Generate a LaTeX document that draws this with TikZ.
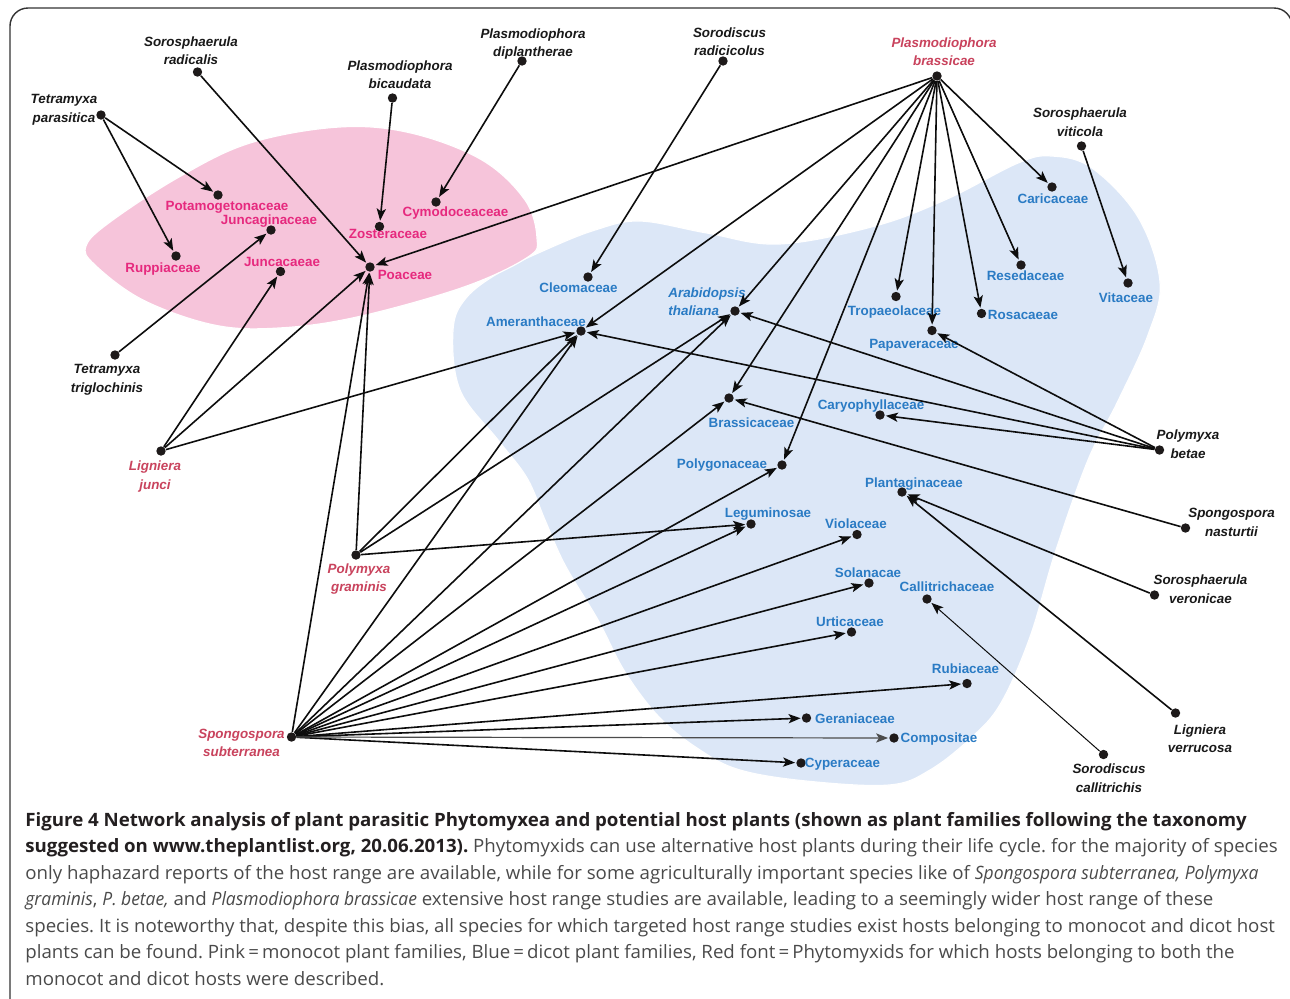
\documentclass[tikz,border=0pt]{standalone}
\usepackage{fontspec}
\setmainfont{Liberation Sans}
\newfontfamily\capfont[FakeStretch=1.015,ItalicFeatures={FakeStretch=0.95}]{Open Sans}
\usetikzlibrary{arrows.meta}
\definecolor{pinkT}{HTML}{E6297E}
\definecolor{blueT}{HTML}{2A7BC4}
\definecolor{redT}{HTML}{C9435D}
\definecolor{pinkF}{HTML}{F6C4DA}
\definecolor{blueF}{HTML}{DCE7F7}
\definecolor{dotC}{HTML}{1E1A1A}
\definecolor{capB}{HTML}{231F20}
\definecolor{capR}{HTML}{4A4A4A}
\frenchspacing
\begin{document}
\begin{tikzpicture}[x=0.5pt,y=-0.5pt,
  dot/.style={circle,fill=dotC,inner sep=0pt,minimum size=4.7pt},
  lbl/.style={inner sep=0pt,align=center,text height=4.8pt,text depth=0pt,
    font=\fontsize{6.7}{9.3}\selectfont\bfseries},
  mono/.style={lbl,text=pinkT},
  dico/.style={lbl,text=blueT},
  spc/.style={lbl,font=\fontsize{6.7}{9.3}\selectfont\bfseries\itshape,text=black!90},
  spr/.style={spc,text=redT},
  arr/.style={line width=0.8pt,draw=black!95,-{Stealth[length=6pt,width=4.6pt,inset=1.4pt]},shorten >=0.4pt},
  capline/.style={anchor=base west,inner sep=0pt,font=\capfont\fontsize{9.2}{13}\selectfont,text=capR}
]
\useasboundingbox (0,0) rectangle (1290,998);
\fill[white] (0,0) rectangle (1290,998);
% frame
\draw[line width=0.7pt,draw=black!80,rounded corners=9pt] (10,1010) -- (10,8) -- (1292,8) -- (1292,40);
% blobs
\fill[blueF,draw=white,line width=0.6pt] plot[smooth cycle,tension=0.6] coordinates {
 (453,330) (466,298) (500,272) (545,250) (595,230) (640,221) (707,233) (779,244)
 (875,226) (947,199) (1018,163) (1052,156) (1092,168) (1138,217) (1160,282)
 (1148,335) (1117,403) (1088,460) (1055,553) (1030,637) (1001,703) (972,737)
 (930,770) (889,785) (806,781) (740,770) (700,750) (660,718) (625,672)
 (598,620) (565,565) (545,520) (527,478) (498,440) (460,390)};
\fill[pinkF,draw=white,line width=0.6pt] plot[smooth cycle,tension=0.6] coordinates {
 (86,246) (110,222) (179,177) (250,143) (339,127) (411,133) (482,160) (525,200)
 (537,238) (528,257) (464,287) (357,317) (279,328) (214,325) (143,300) (95,265)};
% parasite dots
\node[dot] (tpar) at (101,115) {};
\node[dot] (srad) at (197.5,72) {};
\node[dot] (pbic) at (392.5,98) {};
\node[dot] (pdip) at (522,61) {};
\node[dot] (srdc) at (723,61) {};
\node[dot] (pbra) at (937,76) {};
\node[dot] (svit) at (1081.5,146) {};
\node[dot] (ttri) at (115,355) {};
\node[dot] (ljun) at (161,451) {};
\node[dot] (pgra) at (356,555) {};
\node[dot] (ssub) at (291.5,737) {};
\node[dot] (pbet) at (1159.5,450) {};
\node[dot] (snas) at (1185.5,528) {};
\node[dot] (sver) at (1154.5,595) {};
\node[dot] (lver) at (1175.5,713) {};
\node[dot] (scal) at (1103.5,754.5) {};
% host dots
\node[dot] (pota) at (218,195) {};
\node[dot] (junc) at (271,230) {};
\node[dot] (rupp) at (176,256) {};
\node[dot] (jcac) at (280.5,271.5) {};
\node[dot] (zost) at (379.5,226.5) {};
\node[dot] (cymo) at (436,202) {};
\node[dot] (poac) at (370,267) {};
\node[dot] (cleo) at (588,277) {};
\node[dot] (amer) at (581,331) {};
\node[dot] (arab) at (735,311) {};
\node[dot] (cari) at (1052,187) {};
\node[dot] (rese) at (1021,265) {};
\node[dot] (vita) at (1128,283) {};
\node[dot] (trop) at (896,296.5) {};
\node[dot] (rosa) at (981.5,313.5) {};
\node[dot] (papa) at (932,330.5) {};
\node[dot] (bras) at (729,398) {};
\node[dot] (cary) at (880,415) {};
\node[dot] (poly) at (782,465) {};
\node[dot] (plan) at (902,492) {};
\node[dot] (legu) at (751,524) {};
\node[dot] (viol) at (857,534.5) {};
\node[dot] (sola) at (869,583) {};
\node[dot] (call) at (927,599) {};
\node[dot] (urti) at (851.5,632) {};
\node[dot] (rubi) at (967,683.5) {};
\node[dot] (gera) at (806.5,718) {};
\node[dot] (comp) at (894,738) {};
\node[dot] (cype) at (801,763) {};
% parasite labels
\node[spc] (l-tpar) at (64,117.5) {Tetramyxa\\parasitica};
\node[spc] (l-srad) at (191,60) {Sorosphaerula\\radicalis};
\node[spc] (l-pbic) at (400,84) {Plasmodiophora\\bicaudata};
\node[spc] (l-pdip) at (533,52) {Plasmodiophora\\diplantherae};
\node[spc] (l-srdc) at (729.5,51) {Sorodiscus\\radicicolus};
\node[spr] (l-pbra) at (944,61) {Plasmodiophora\\brassicae};
\node[spc] (l-svit) at (1080,131.5) {Sorosphaerula\\viticola};
\node[spc] (l-ttri) at (107,387.5) {Tetramyxa\\triglochinis};
\node[spr] (l-ljun) at (155,484.5) {Ligniera\\junci};
\node[spr] (l-pgra) at (359,587) {Polymyxa\\graminis};
\node[spr] (l-ssub) at (241.5,752) {Spongospora\\subterranea};
\node[spc] (l-pbet) at (1188,453.5) {Polymyxa\\betae};
\node[spc] (l-snas) at (1231.5,531.5) {Spongospora\\nasturtii};
\node[spc] (l-sver) at (1200.5,598.5) {Sorosphaerula\\veronicae};
\node[spc] (l-lver) at (1200,748) {Ligniera\\verrucosa};
\node[spc] (l-scal) at (1109,787.5) {Sorodiscus\\callitrichis};
% host labels
\node[mono] (l-pota) at (227,206) {Potamogetonaceae};
\node[mono] (l-junc) at (269,220) {Juncaginaceae};
\node[mono] (l-rupp) at (163,268) {Ruppiaceae};
\node[mono] (l-jcac) at (282,262) {Juncacaeae};
\node[mono] (l-zost) at (388,234) {Zosteraceae};
\node[mono] (l-cymo) at (455.5,212) {Cymodoceaceae};
\node[mono] (l-poac) at (405,275) {Poaceae};
\node[dico] (l-cleo) at (578.5,288) {Cleomaceae};
\node[dico] (l-amer) at (536,322) {Ameranthaceae};
\node[dico,align=left,anchor=west,font=\fontsize{6.7}{9.3}\selectfont\bfseries\itshape] (l-arab) at (668,311) {Arabidopsis\\thaliana};
\node[dico] (l-cari) at (1053,199) {Caricaceae};
\node[dico] (l-rese) at (1025.5,276) {Resedaceae};
\node[dico] (l-vita) at (1126,298) {Vitaceae};
\node[dico] (l-trop) at (894.5,311) {Tropaeolaceae};
\node[dico] (l-rosa) at (1023,314.5) {Rosacaeae};
\node[dico] (l-papa) at (914,344) {Papaveraceae};
\node[dico] (l-bras) at (751.5,423) {Brassicaceae};
\node[dico] (l-cary) at (871,405) {Caryophyllaceae};
\node[dico] (l-poly) at (722,464) {Polygonaceae};
\node[dico] (l-plan) at (914,483) {Plantaginaceae};
\node[dico] (l-legu) at (768,513) {Leguminosae};
\node[dico] (l-viol) at (856,524) {Violaceae};
\node[dico] (l-sola) at (868,573) {Solanacae};
\node[dico] (l-call) at (947,587) {Callitrichaceae};
\node[dico] (l-urti) at (850,622) {Urticaceae};
\node[dico] (l-rubi) at (965.5,669) {Rubiaceae};
\node[dico] (l-gera) at (855,719) {Geraniaceae};
\node[dico] (l-comp) at (939,738) {Compositae};
\node[dico] (l-cype) at (842.5,763) {Cyperaceae};
% connectors
\draw[arr] (tpar) -- (pota);
\draw[arr] (tpar) -- (rupp);
\draw[arr] (srad) -- (poac);
\draw[arr] (pbic) -- (zost);
\draw[arr] (pdip) -- (cymo);
\draw[arr] (srdc) -- (cleo);
\foreach \h in {poac,amer,arab,bras,poly,trop,papa,rosa,rese,cari}
  \draw[arr] (pbra) -- (\h);
\draw[arr] (svit) -- (vita);
\draw[arr] (ttri) -- (junc);
\foreach \h in {jcac,poac,amer}
  \draw[arr] (ljun) -- (\h);
\foreach \h in {poac,amer,arab,legu}
  \draw[arr] (pgra) -- (\h);
\foreach \h in {poac,amer,arab,bras,poly,legu,viol,sola,urti,rubi,gera,cype}
  \draw[arr] (ssub) -- (\h);
\draw[arr,draw=black!70,line width=0.6pt] (ssub) -- (comp);
\foreach \h in {papa,arab,amer,cary}
  \draw[arr] (pbet) -- (\h);
\draw[arr] (snas) -- (bras);
\draw[arr] (sver) -- (plan);
\draw[arr] (lver) -- (plan);
\draw[arr,line width=0.5pt] (scal) -- (call);
% caption
\node[capline] (cap1) at (25,826) {\textbf{\color{capB}Figure 4 Network analysis of plant parasitic Phytomyxea and potential host plants (shown as plant families following the taxonomy}};
\node[capline] (cap2) at (25,852.5) {\textbf{\color{capB}suggested on www.theplantlist.org, 20.06.2013).} Phytomyxids can use alternative host plants during their life cycle. for the majority of species};
\node[capline] (cap3) at (25,879) {only haphazard reports of the host range are available, while for some agriculturally important species like of \textit{Spongospora subterranea, Polymyxa}};
\node[capline] (cap4) at (25,905.5) {\textit{graminis}, \textit{P. betae,} and \textit{Plasmodiophora brassicae} extensive host range studies are available, leading to a seemingly wider host range of these};
\node[capline] (cap5) at (25,932) {species. It is noteworthy that, despite this bias, all species for which targeted host range studies exist hosts belonging to monocot and dicot host};
\node[capline] (cap6) at (25,958.5) {plants can be found. Pink\,=\,monocot plant families, Blue\,=\,dicot plant families, Red font\,=\,Phytomyxids for which hosts belonging to both the};
\node[capline] (cap7) at (25,985) {monocot and dicot hosts were described.};
\end{tikzpicture}
\end{document}
